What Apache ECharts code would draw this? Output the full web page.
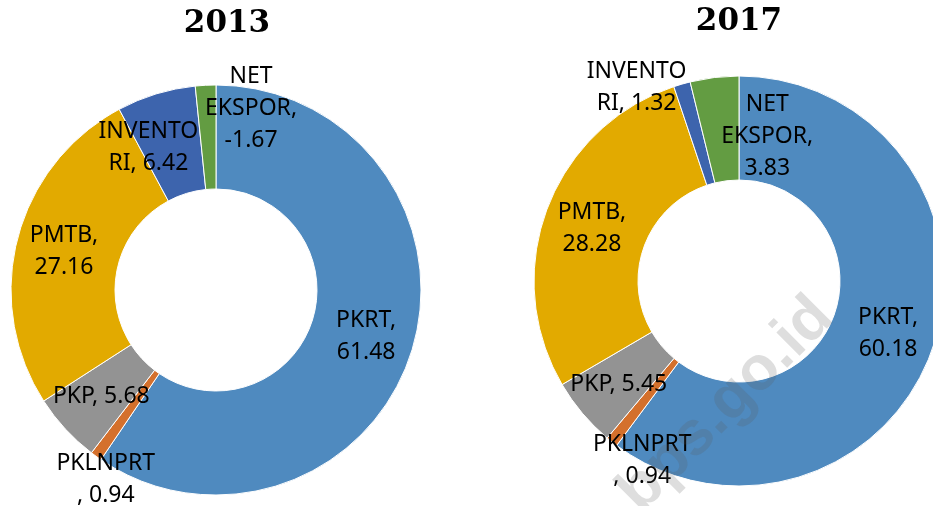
<!DOCTYPE html>
<html>
<head>
<meta charset="utf-8">
<script src="https://cdn.jsdelivr.net/npm/echarts@6/dist/echarts.min.js"></script>
<style>
html,body{margin:0;padding:0;background:#fff;}
#chart{width:933px;height:506px;}
</style>
</head>
<body>
<div id="chart"></div>
<script>
// ---- data ----
var categories = ['PKRT', 'PKLNPRT', 'PKP', 'PMTB', 'INVENTORI', 'NET EKSPOR'];
var values2013 = [61.48, 0.94, 5.68, 27.16, 6.42, -1.67];
var values2017 = [60.18, 0.94, 5.45, 28.28, 1.32, 3.83];
var years = ['2013', '2017'];
// label text as wrapped in the picture (name part before the value)
var labelPrefix2013 = ['PKRT,\n', 'PKLNPRT\n, ', 'PKP, ', 'PMTB,\n', 'INVENTO\nRI, ', 'NET\nEKSPOR,\n'];
var labelPrefix2017 = ['PKRT,\n', 'PKLNPRT\n, ', 'PKP, ', 'PMTB,\n', 'INVENTO\nRI, ', 'NET\nEKSPOR,\n'];

// ---- styles ----
var colors = ['#4F8ABF', '#D4702C', '#939393', '#E2AA00', '#3D64AD', '#639C42'];
var offsets2013 = [[1, 1], [-19, 63], [0, 1], [-1, 1], [-22, 7], [43, -26]];
var offsets2017 = [[1, 3], [0, 57], [-1, 3], [-1, 2], [-59, -44], [47, 10]];

function buildData(vals, prefixes, offs) {
  return vals.map(function (v, i) {
    return {
      name: categories[i],
      value: Math.abs(v),
      itemStyle: { color: colors[i] },
      label: { offset: offs[i], formatter: prefixes[i] + v.toFixed(2) }
    };
  });
}

function pieSeries(center, data) {
  return {
    type: 'pie',
    center: center,
    radius: [101, 205],
    startAngle: 90,
    clockwise: true,
    avoidLabelOverlap: false,
    silent: true,
    animation: false,
    itemStyle: { borderColor: '#ffffff', borderWidth: 1 },
    label: {
      show: true,
      position: 'inside',
      color: '#000',
      fontFamily: 'Noto Sans',
      fontSize: 23,
      lineHeight: 32,
      align: 'center'
    },
    labelLine: { show: false },
    emphasis: { disabled: true },
    data: data
  };
}

var chart = echarts.init(document.getElementById('chart'), null, { renderer: 'canvas' });
chart.setOption({
  backgroundColor: '#ffffff',
  animation: false,
  series: [
    pieSeries([216, 290], buildData(values2013, labelPrefix2013, offsets2013)),
    pieSeries([739, 281], buildData(values2017, labelPrefix2017, offsets2017))
  ],
  graphic: [
    { type: 'text', x: 227, y: 24, z: 10,
      style: { text: years[0], fill: '#000', font: 'bold 31px "DejaVu Serif"', align: 'center', verticalAlign: 'middle' } },
    { type: 'text', x: 739, y: 22, z: 10,
      style: { text: years[1], fill: '#000', font: 'bold 31px "DejaVu Serif"', align: 'center', verticalAlign: 'middle' } },
    { type: 'text', x: 726, y: 405, rotation: Math.PI / 4, z: 100,
      style: { text: 'bps.go.id', fill: 'rgba(90,90,90,0.2)', font: 'bold 62px "Liberation Sans"', align: 'center', verticalAlign: 'middle' } }
  ]
});
</script>
</body>
</html>
